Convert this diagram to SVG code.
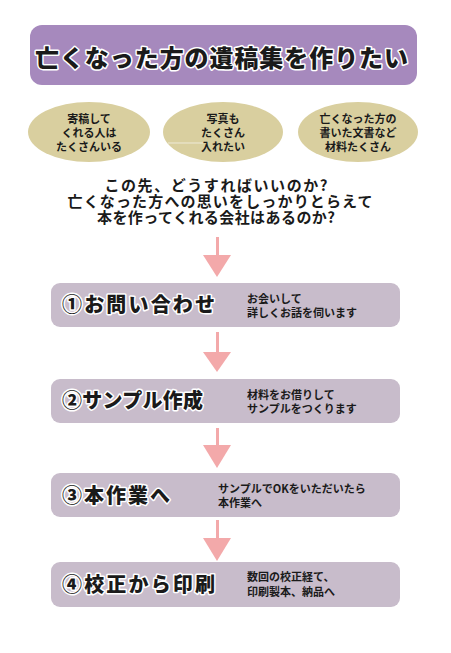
<svg xmlns="http://www.w3.org/2000/svg" width="451" height="653" viewBox="0 0 451 653">
<style>
text{font-family:"Noto Sans CJK JP","Noto Sans",sans-serif;font-weight:bold;fill:#1a1a1a}
.big{font-size:24px;font-weight:900;stroke:#fff;stroke-width:3px;paint-order:stroke;stroke-linejoin:round}
.step{font-size:20px;font-weight:900;stroke:#fff;stroke-width:3px;paint-order:stroke;stroke-linejoin:round}
.ell{fill:#d9cf9f}
.small{font-size:11px;text-anchor:middle}
.desc{font-size:11px}
.q{font-size:15px;text-anchor:middle}
.box{fill:#c8bccb}
.arr{fill:#f3a9aa}
</style>
<rect width="451" height="653" fill="#fff"/>
<g id="title">
<rect x="30" y="25" width="387" height="60" rx="12" fill="#a689bd"/>
<text class="big" x="35" y="67" textLength="373" lengthAdjust="spacing">亡くなった方の遺稿集を作りたい</text>
</g>
<g id="wish1">
<ellipse class="ell" cx="89" cy="132" rx="61" ry="30"/>
<text class="small" x="89" y="123">寄稿して</text>
<text class="small" x="89" y="137">くれる人は</text>
<text class="small" x="89" y="151">たくさんいる</text>
</g>
<g id="wish2">
<ellipse class="ell" cx="223" cy="132" rx="60" ry="30"/>
<line x1="168" y1="143" x2="203" y2="143" stroke="#eeead8" stroke-width="1"/>
<text class="small" x="223" y="123">写真も</text>
<text class="small" x="223" y="137">たくさん</text>
<text class="small" x="223" y="151">入れたい</text>
</g>
<g id="wish3">
<ellipse class="ell" cx="358" cy="132" rx="60" ry="30"/>
<text class="small" x="358" y="123">亡くなった方の</text>
<text class="small" x="358" y="137">書いた文書など</text>
<text class="small" x="358" y="151">材料たくさん</text>
</g>
<g id="question">
<text class="q" x="216" y="191" textLength="223" lengthAdjust="spacing">この先、どうすればいいのか?</text>
<text class="q" x="220" y="207" textLength="305" lengthAdjust="spacing">亡くなった方への思いをしっかりとらえて</text>
<text class="q" x="216" y="223" textLength="238" lengthAdjust="spacing">本を作ってくれる会社はあるのか?</text>
</g>
<g id="connectors">
<rect class="arr" x="216" y="237" width="3" height="19"/>
<polygon class="arr" points="203,255 231,255 217,277"/>
<rect class="arr" x="216" y="332" width="3" height="21"/>
<polygon class="arr" points="203,352 231,352 217,372"/>
<rect class="arr" x="216" y="428" width="3" height="18"/>
<polygon class="arr" points="203,445 231,445 217,468"/>
<rect class="arr" x="216" y="520" width="3" height="19"/>
<polygon class="arr" points="203,538 231,538 217,561"/>
</g>
<g id="step1">
<rect class="box" x="51" y="283" width="349" height="44" rx="9"/>
<text class="step" x="62" y="312" textLength="153" lengthAdjust="spacing">①お問い合わせ</text>
<text class="desc" x="247" y="303">お会いして</text>
<text class="desc" x="247" y="317">詳しくお話を伺います</text>
</g>
<g id="step2">
<rect class="box" x="51" y="379" width="349" height="44" rx="9"/>
<text class="step" x="62" y="408" textLength="141" lengthAdjust="spacing">②サンプル作成</text>
<text class="desc" x="247" y="399">材料をお借りして</text>
<text class="desc" x="247" y="413">サンプルをつくります</text>
</g>
<g id="step3">
<rect class="box" x="51" y="473" width="349" height="44" rx="9"/>
<text class="step" x="62" y="503" textLength="108" lengthAdjust="spacing">③本作業へ</text>
<text class="desc" x="218" y="493">サンプルでOKをいただいたら</text>
<text class="desc" x="218" y="507">本作業へ</text>
</g>
<g id="step4">
<rect class="box" x="51" y="562" width="349" height="45" rx="9"/>
<text class="step" x="62" y="592" textLength="153" lengthAdjust="spacing">④校正から印刷</text>
<text class="desc" x="247" y="581">数回の校正経て、</text>
<text class="desc" x="247" y="596">印刷製本、納品へ</text>
</g>
</svg>
